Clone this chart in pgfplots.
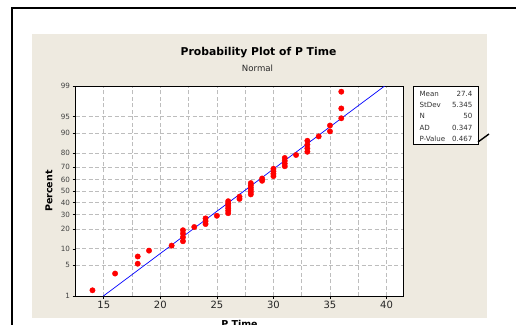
\documentclass[border=0pt]{standalone}
\usepackage{pgfplots}
\pgfplotsset{compat=1.18}
\usepackage{fontspec}
\setmainfont{DejaVu Sans}
\definecolor{panel}{HTML}{EEEAE0}
\definecolor{gridc}{HTML}{BDBDBD}
\begin{document}
\begin{tikzpicture}[x=1pt,y=1pt]
\useasboundingbox (0,0) rectangle (516,324);
\clip (0,0) rectangle (516,324);
\fill[white] (0,0) rectangle (516,324);
\fill[panel] (32,6) rectangle (487,290);
\draw[line width=2pt,black] (12,-2) -- (12,316) -- (520,316);
\begin{axis}[
  at={(75.5pt,28pt)}, anchor=south west,
  scale only axis, width=328pt, height=210pt,
  xmin=12.5, xmax=41.5, ymin=-2.3263, ymax=2.3263,
  axis background/.style={fill=white},
  axis line style={line width=1pt},
  xtick={15,20,25,30,35,40},
  minor xtick={17.5,22.5,27.5,32.5,37.5},
  ytick={-2.3263,-1.6449,-1.2816,-0.8416,-0.5244,-0.2533,0,0.2533,0.5244,0.8416,1.2816,1.6449,2.3263},
  yticklabels={1,5,10,20,30,40,50,60,70,80,90,95,99},
  xmajorgrids, xminorgrids, ymajorgrids,
  grid style={gridc, dashed, line width=0.7pt, dash pattern=on 4pt off 2.5pt},
  minor grid style={gridc, dashed, line width=0.7pt, dash pattern=on 4pt off 2.5pt},
  tick align=outside, xtick pos=bottom, ytick pos=left,
  major tick length=3pt, minor tick length=0pt,
  tick style={black, line width=0.6pt},
  /pgf/number format/assume math mode=true,
  xticklabel style={font=\fontsize{10}{12}\selectfont, text=black!85, yshift=1pt},
  yticklabel style={font=\fontsize{7.2}{8}\selectfont, text=black!75, xshift=1pt},
  clip=true,
]
\addplot[blue, line width=0.7pt] coordinates {(14.966,-2.3263) (39.834,2.3263)};
\addplot[only marks, mark=*, mark size=2.7pt, color=red, mark options={fill=red, draw=red}] coordinates {
(14,-2.200) (16,-1.829) (18,-1.611) (18,-1.451) (19,-1.321) (21,-1.210)
(22,-1.113) (22,-1.025) (22,-0.944) (22,-0.869)
(23,-0.798)
(24,-0.732) (24,-0.668) (24,-0.607)
(25,-0.549)
(26,-0.492) (26,-0.436) (26,-0.382) (26,-0.329) (26,-0.277) (26,-0.226)
(27,-0.175) (27,-0.125)
(28,-0.075) (28,-0.025) (28,0.025) (28,0.075) (28,0.125) (28,0.175)
(29,0.226) (29,0.277)
(30,0.329) (30,0.382) (30,0.436) (30,0.492)
(31,0.549) (31,0.607) (31,0.668) (31,0.732)
(32,0.798)
(33,0.869) (33,0.944) (33,1.025) (33,1.113)
(34,1.210)
(35,1.321) (35,1.451)
(36,1.611) (36,1.829) (36,2.200)
};
\end{axis}
\node[font=\bfseries\fontsize{10.8}{13}\selectfont] at (258.5,271) {Probability Plot of P Time};
\node[font=\fontsize{8.6}{10}\selectfont, text=black!85] at (257.5,256) {Normal};
\node[font=\bfseries\fontsize{9.5}{11}\selectfont, rotate=90] at (49,133) {Percent};
\node[font=\bfseries\fontsize{9.5}{11}\selectfont, anchor=north] at (239.5,7.5) {P Time};
\draw[black, line width=0.9pt, fill=white] (413.5,180) rectangle (478.3,238);
\begin{scope}[font=\fontsize{7.1}{8}\selectfont, text=black!80]
\node[anchor=west] at (416,230.3) {Mean};
\node[anchor=west] at (416,219) {StDev};
\node[anchor=west] at (416,207.7) {N};
\node[anchor=west] at (416,196.3) {AD};
\node[anchor=west] at (416,185.3) {P-Value};
\node[anchor=east] at (476,230.3) {27.4};
\node[anchor=east] at (476,219) {5.345};
\node[anchor=east] at (476,207.7) {50};
\node[anchor=east] at (476,196.3) {0.347};
\node[anchor=east] at (476,185.3) {0.467};
\end{scope}
\draw[black, line width=1.4pt] (478,182) -- (489,190);
\end{tikzpicture}
\end{document}
